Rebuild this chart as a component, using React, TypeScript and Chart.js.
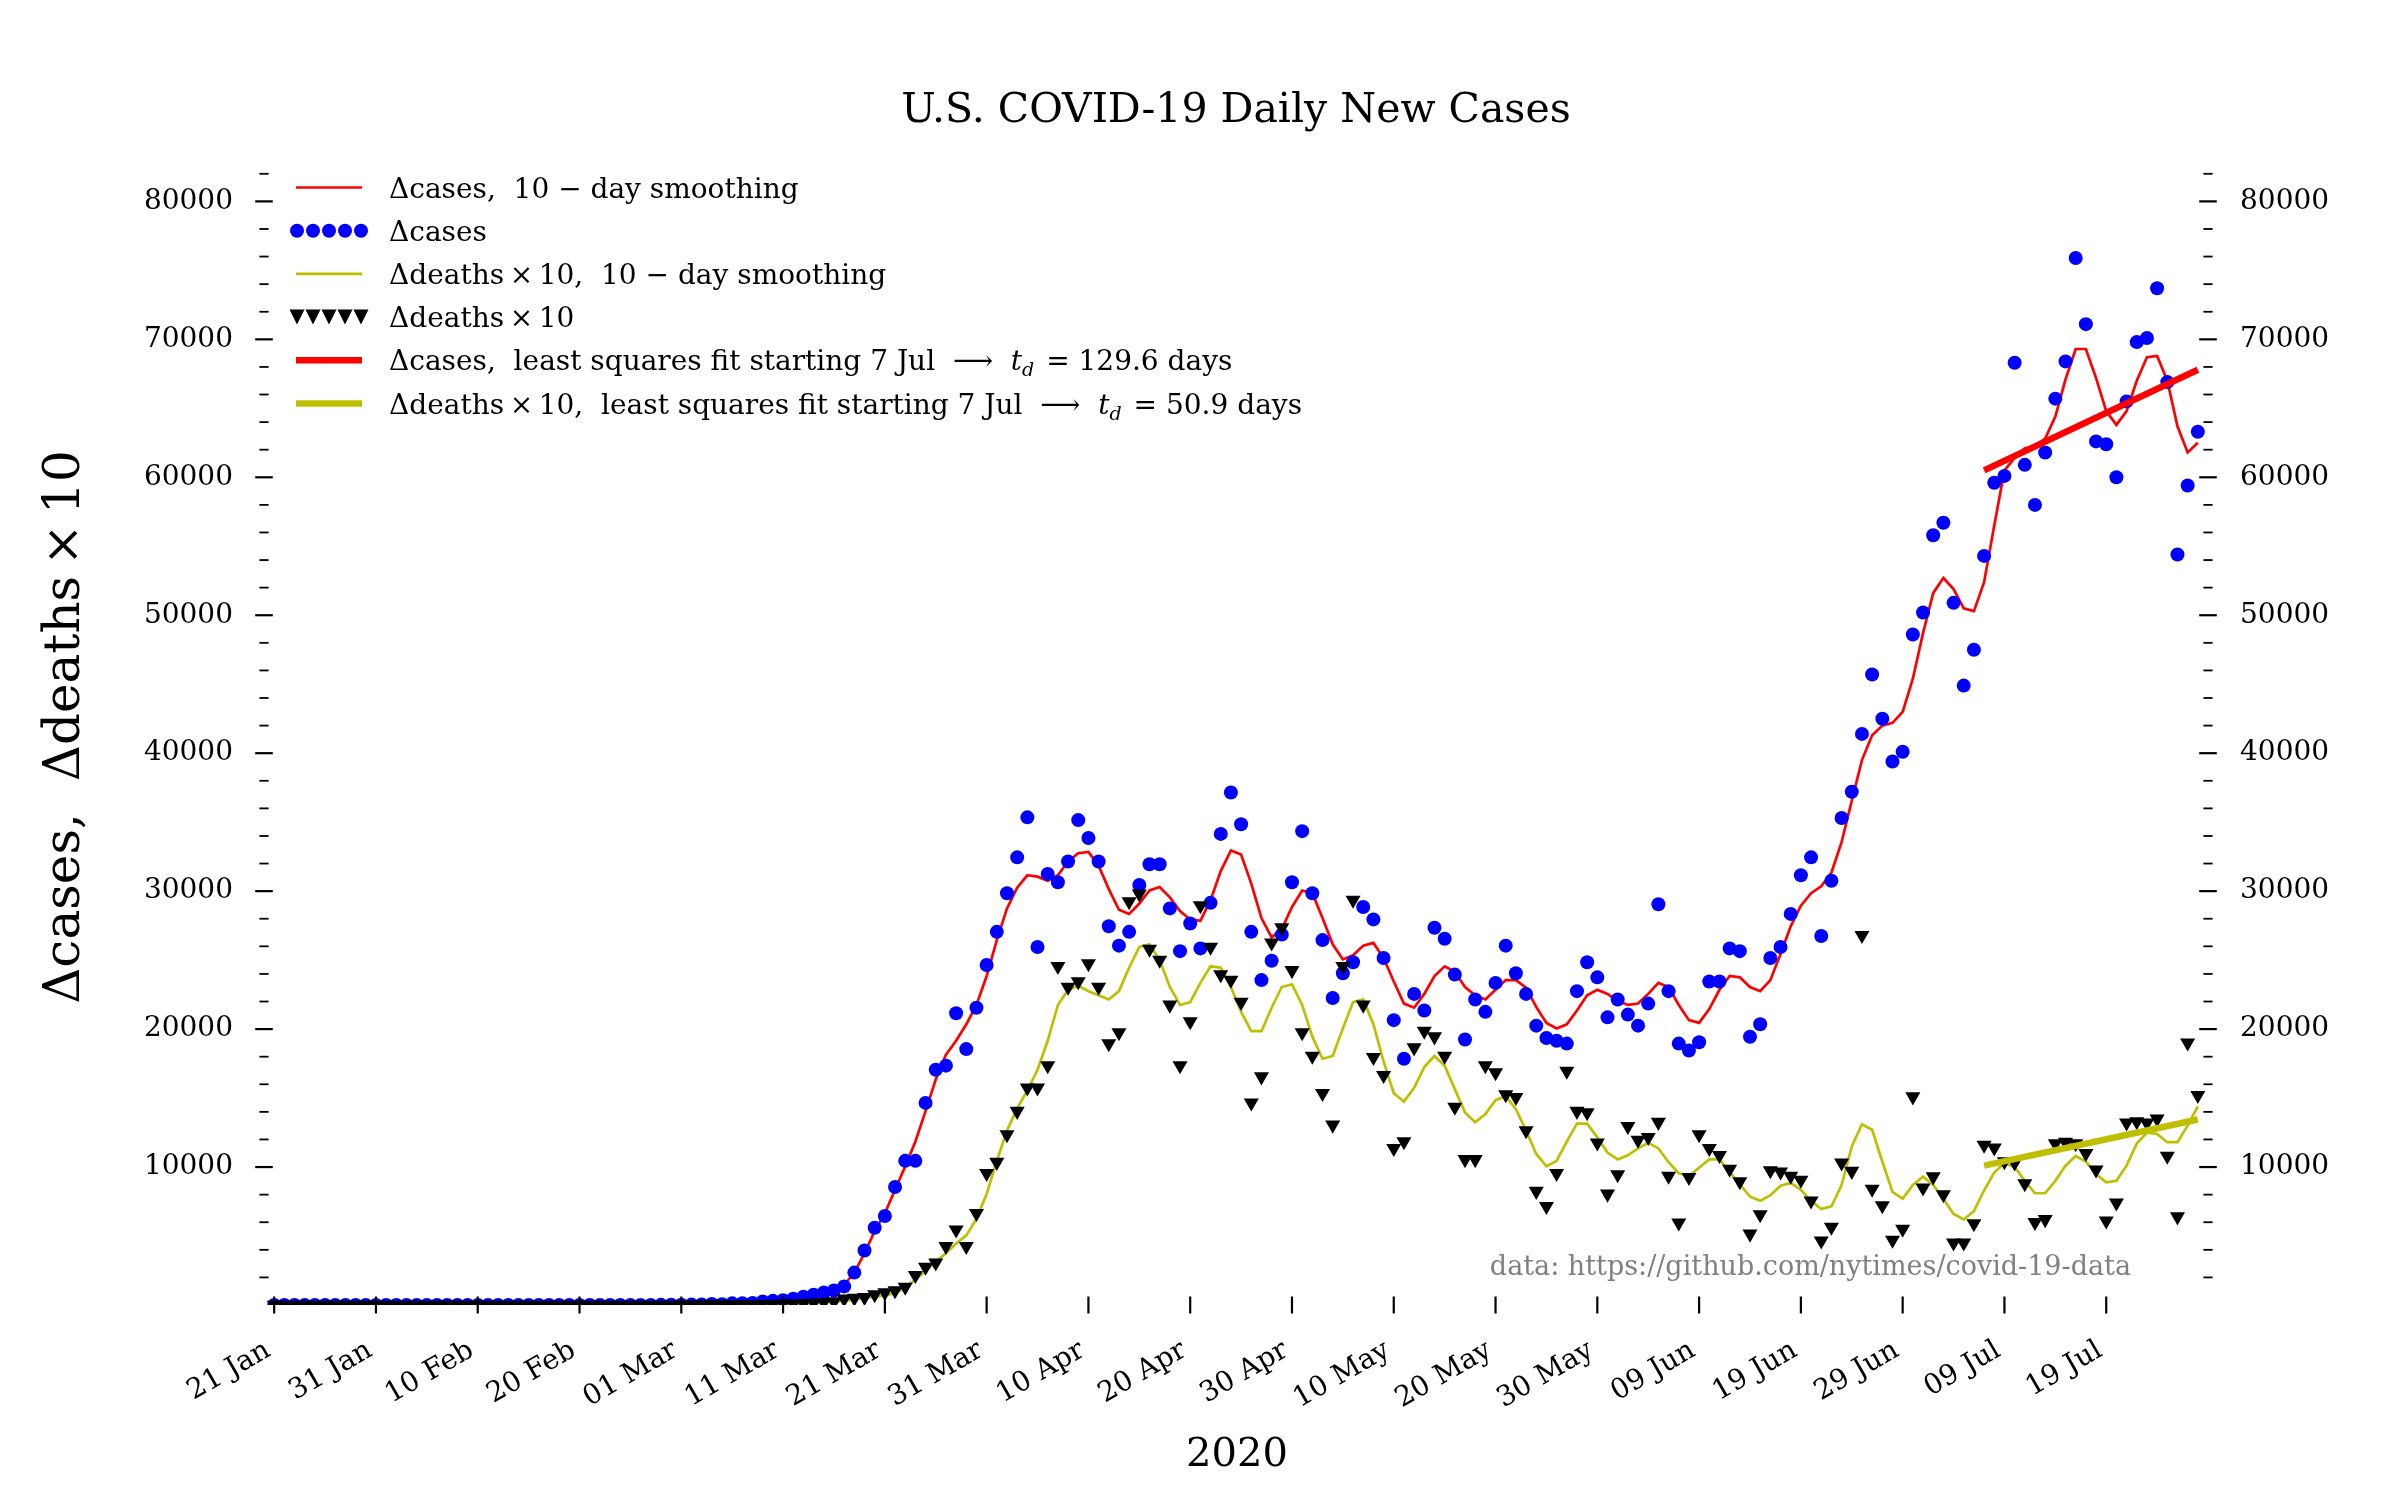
import React, { useEffect, useRef } from 'react';
import { Chart, registerables } from 'chart.js';

Chart.register(...registerables);

// ---------- data (index = days since 21 Jan 2020) ----------
const xTickDays = [0, 10, 20, 30, 40, 50, 60, 70, 80, 90, 100, 110, 120, 130, 140, 150, 160, 170, 180];
const xTickLabels = ['21 Jan', '31 Jan', '10 Feb', '20 Feb', '01 Mar', '11 Mar', '21 Mar', '31 Mar', '10 Apr', '20 Apr', '30 Apr', '10 May', '20 May', '30 May', '09 Jun', '19 Jun', '29 Jun', '09 Jul', '19 Jul'];
const yTickValues = [2000, 4000, 6000, 8000, 10000, 12000, 14000, 16000, 18000, 20000, 22000, 24000, 26000, 28000, 30000, 32000, 34000, 36000, 38000, 40000, 42000, 44000, 46000, 48000, 50000, 52000, 54000, 56000, 58000, 60000, 62000, 64000, 66000, 68000, 70000, 72000, 74000, 76000, 78000, 80000, 82000];
const yLabeledTicks = [10000, 20000, 30000, 40000, 50000, 60000, 70000, 80000];

const cases = [
  1, 0, 0, 1, 0, 2, 0, 0, 0, 1,
  1, 1, 1, 0, 0, 0, 0, 1, 0, 0,
  0, 0, 0, 1, 0, 0, 0, 0, 0, 1,
  1, 0, 0, 0, 0, 3, 2, 5, 10, 18,
  25, 30, 45, 70, 60, 120, 130, 150, 260, 300,
  350, 450, 600, 750, 900, 1050, 1350, 2350, 3950, 5600,
  6450, 8550, 10450, 10450, 14650, 17050, 17350, 21150, 18550, 21550,
  24650, 27050, 29850, 32450, 35350, 25950, 31250, 30650, 32150, 35150,
  33850, 32150, 27450, 26050, 27050, 30450, 31950, 31950, 28750, 25650,
  27650, 25850, 29150, 34150, 37150, 34850, 27050, 23550, 24950, 26850,
  30650, 34350, 29850, 26450, 22250, 24050, 24850, 28850, 27950, 25150,
  20650, 17850, 22550, 21350, 27350, 26550, 23950, 19250, 22150, 21250,
  23350, 26050, 24050, 22550, 20250, 19350, 19150, 18950, 22750, 24850,
  23750, 20850, 22150, 21050, 20250, 21850, 29050, 22750, 18950, 18450,
  19050, 23450, 23450, 25850, 25650, 19450, 20350, 25150, 25950, 28350,
  31150, 32450, 26750, 30750, 35300, 37200, 41400, 45700, 42500, 39400,
  40100, 48600, 50200, 55800, 56700, 50900, 44900, 47500, 54300, 59600,
  60100, 68300, 60900, 58000, 61800, 65700, 68400, 75900, 71100, 62600,
  62400, 60000, 65500, 69800, 70100, 73700, 66900, 54400, 59400, 63300,
];

const casesSmooth = [
  0, 0, 0, 0, 0, 0, 0, 0, 1, 1,
  1, 1, 1, 1, 0, 0, 0, 0, 0, 0,
  0, 0, 0, 0, 0, 0, 0, 0, 0, 0,
  0, 0, 0, 1, 2, 3, 5, 8, 12, 18,
  25, 35, 45, 60, 75, 95, 120, 150, 190, 250,
  330, 420, 530, 650, 800, 1100, 1450, 2350, 3750, 5350,
  6650, 8350, 10050, 11850, 14050, 16350, 18150, 19150, 20350, 21750,
  23850, 26450, 28750, 30250, 31150, 31050, 30750, 31150, 32150, 32750,
  32850, 31850, 30150, 28650, 28350, 29100, 30050, 30300, 29550, 28550,
  27950, 27850, 29350, 31450, 32950, 32650, 30550, 28050, 26650, 27250,
  28850, 30050, 29850, 28050, 26150, 25050, 25350, 26050, 26250, 25150,
  23450, 21850, 21550, 22550, 23850, 24550, 24150, 23050, 22450, 22150,
  22850, 23550, 23550, 23000, 21600, 20450, 20050, 20350, 21350, 22450,
  22850, 22550, 22050, 21750, 21850, 22550, 23350, 23050, 21750, 20650,
  20450, 21450, 22850, 23850, 23750, 23050, 22750, 23550, 25450, 27450,
  28950, 29850, 30350, 31350, 33550, 36550, 39500, 41300, 42000, 42200,
  43000, 45400, 48700, 51600, 52700, 51900, 50500, 50300, 52400, 56500,
  60500, 61400, 62100, 62200, 62800, 64400, 67100, 69300, 69300, 67200,
  64800, 63800, 64800, 67000, 68700, 68800, 67000, 63700, 61800, 62500,
];

const deathsX10 = [
  0, 0, 0, 0, 0, 0, 0, 0, 0, 0,
  0, 0, 0, 0, 0, 0, 0, 0, 0, 0,
  0, 0, 0, 0, 0, 0, 0, 0, 0, 0,
  0, 0, 0, 0, 0, 0, 0, 0, 0, 0,
  10, 10, 20, 50, 30, 20, 40, 30, 40, 60,
  80, 100, 120, 150, 200, 250, 450, 500, 550, 750,
  900, 1050, 1300, 2150, 2750, 3050, 4250, 5450, 4250, 6650,
  9550, 10350, 12350, 14050, 15750, 15750, 17350, 24550, 23050, 23450,
  24750, 23050, 18950, 19750, 29250, 29800, 25800, 25000, 21750, 17350,
  20550, 28950, 25950, 23950, 23550, 21950, 14650, 16550, 26250, 27350,
  24250, 19750, 18050, 15350, 13050, 24550, 29350, 21750, 17950, 16650,
  11350, 11850, 18650, 19850, 19450, 18050, 14350, 10550, 10550, 17350,
  16850, 15250, 15050, 12650, 8250, 7150, 9550, 16950, 14050, 13950,
  11750, 8050, 9450, 12950, 11950, 12150, 13250, 9350, 5950, 9250,
  12350, 11350, 10850, 9850, 8950, 5150, 6550, 9750, 9650, 9350,
  9050, 7550, 4650, 5650, 10300, 9700, 26800, 8400, 7200, 4700,
  5500, 15100, 8500, 9300, 8000, 4500, 4500, 5900, 11600, 11400,
  10400, 10300, 8800, 6000, 6200, 11700, 11800, 11700, 11000, 9800,
  6100, 7400, 13200, 13300, 13200, 13500, 10800, 6400, 19000, 15200,
];

const deathsX10Smooth = [
  0, 0, 0, 0, 0, 0, 0, 0, 0, 0,
  0, 0, 0, 0, 0, 0, 0, 0, 0, 0,
  0, 0, 0, 0, 0, 0, 0, 0, 0, 0,
  0, 0, 0, 0, 0, 0, 0, 0, 0, 0,
  5, 8, 12, 18, 22, 25, 28, 32, 40, 50,
  70, 90, 110, 140, 180, 230, 300, 400, 500, 600,
  700, 850, 1250, 1850, 2450, 3150, 3750, 4450, 5050, 6250,
  8050, 10450, 12650, 14250, 15550, 17050, 19150, 21750, 22850, 23150,
  22750, 22450, 22150, 22750, 24450, 25950, 26150, 25000, 23050, 21750,
  21950, 23350, 24550, 24450, 23050, 21250, 19850, 19850, 21550, 23050,
  23250, 21750, 19450, 17850, 18050, 20050, 21950, 22150, 20350, 17650,
  15350, 14750, 15750, 17250, 18050, 17350, 15650, 13950, 13250, 13850,
  14850, 15150, 14200, 12650, 10950, 10050, 10450, 11850, 13150, 13150,
  12150, 11050, 10550, 10850, 11350, 11750, 11350, 10350, 9550, 9350,
  9950, 10550, 10550, 9650, 8750, 7850, 7550, 7950, 8650, 8850,
  8350, 7550, 6950, 7150, 8700, 11500, 13100, 12700, 10400, 8200,
  7700, 8700, 9300, 8700, 7700, 6600, 6200, 6800, 8300, 9600,
  10300, 10000, 9000, 8100, 8100, 9000, 10100, 10800, 10400, 9500,
  8900, 9000, 10100, 11700, 12500, 12400, 11800, 11800, 13000, 14400,
];

const fitDays = [168, 189];
const casesFit = [60500, 67800];
const deathsFit = [10100, 13450];

const titleText = 'U.S. COVID-19 Daily New Cases';
const xAxisTitle = '2020';
const yAxisTitle = 'Δcases,  Δdeaths\u2009×\u200910';
const creditText = 'data: https://github.com/nytimes/covid-19-data';
const legendLabels = [
  'Δcases,  10 − day smoothing',
  'Δcases',
  'Δdeaths\u2009×\u200910,  10 − day smoothing',
  'Δdeaths\u2009×\u200910',
  'Δcases,  least squares fit starting 7 Jul  ⟶  ',
  'Δdeaths\u2009×\u200910,  least squares fit starting 7 Jul  ⟶  ',
];
const legendTd = ['129.6', '50.9'];

// ---------- styles ----------
const RED = '#ff0000';
const BLUE = '#0000ff';
const OLIVE = '#bfbf00';
const SERIF = '"DejaVu Serif"';

const toXY = (arr: number[]) => arr.map((v, i) => ({ x: i, y: v }));
const toFitXY = (arr: number[]) => arr.map((v, i) => ({ x: fitDays[i], y: v }));

function drawTriangleDown(ctx: CanvasRenderingContext2D, x: number, y: number, w: number, h: number) {
  ctx.beginPath();
  ctx.moveTo(x - w / 2, y - h / 2);
  ctx.lineTo(x + w / 2, y - h / 2);
  ctx.lineTo(x, y + h / 2);
  ctx.closePath();
  ctx.fill();
}

const decorPlugin = {
  id: 'decor',
  afterDraw(chart: any) {
    const { ctx, chartArea, scales } = chart;
    ctx.save();
    // tick marks (inout, matplotlib-like)
    ctx.strokeStyle = '#000';
    for (const v of yTickValues) {
      const y = scales.y.getPixelForValue(v);
      const major = yLabeledTicks.includes(v);
      const half = major ? 8.8 : 4.6;
      ctx.lineWidth = major ? 2.2 : 1.8;
      for (const x0 of [chartArea.left, chartArea.right]) {
        ctx.beginPath();
        ctx.moveTo(x0 - half, y);
        ctx.lineTo(x0 + half, y);
        ctx.stroke();
      }
    }
    ctx.lineWidth = 2.2;
    for (const d of xTickDays) {
      const x = scales.x.getPixelForValue(d);
      ctx.beginPath();
      ctx.moveTo(x, chartArea.bottom - 8.5);
      ctx.lineTo(x, chartArea.bottom + 8.5);
      ctx.stroke();
    }

    // title
    ctx.fillStyle = '#000';
    ctx.textAlign = 'center';
    ctx.textBaseline = 'alphabetic';
    ctx.font = `41px ${SERIF}`;
    ctx.fillText(titleText, 1236, 122);

    // x axis title
    ctx.font = `40px ${SERIF}`;
    ctx.fillText(xAxisTitle, 1237, 1466);

    // y axis title
    ctx.save();
    ctx.translate(66, 727);
    ctx.rotate(-Math.PI / 2);
    ctx.font = `50px ${SERIF}`;
    ctx.textBaseline = 'middle';
    ctx.fillText(yAxisTitle, 0, 0);
    ctx.restore();

    // credit
    ctx.fillStyle = '#808080';
    ctx.textAlign = 'right';
    ctx.font = `27px ${SERIF}`;
    ctx.fillText(creditText, 2131, 1275);

    // legend
    const rowY = [187.5, 230.7, 273.9, 317.1, 360.3, 403.5];
    const hx0 = 296;
    const hx1 = 362;
    ctx.textAlign = 'left';
    ctx.textBaseline = 'alphabetic';
    rowY.forEach((y, i) => {
      if (i === 0 || i === 2 || i === 4 || i === 5) {
        ctx.strokeStyle = i === 0 || i === 4 ? RED : OLIVE;
        ctx.lineWidth = i >= 4 ? 6.5 : 2.7;
        ctx.lineCap = 'butt';
        ctx.beginPath();
        ctx.moveTo(hx0, y);
        ctx.lineTo(hx1, y);
        ctx.stroke();
      } else {
        for (let k = 0; k < 5; k++) {
          const cx = 297 + k * 16;
          if (i === 1) {
            ctx.fillStyle = BLUE;
            ctx.beginPath();
            ctx.arc(cx, y, 7, 0, Math.PI * 2);
            ctx.fill();
          } else {
            ctx.fillStyle = '#000';
            drawTriangleDown(ctx, cx, y, 15, 15);
          }
        }
      }
      ctx.fillStyle = '#000';
      ctx.font = `28px ${SERIF}`;
      const base = y + 10;
      let tx = 389;
      ctx.fillText(legendLabels[i], tx, base);
      if (i >= 4) {
        tx += ctx.measureText(legendLabels[i]).width;
        ctx.font = `italic 28px ${SERIF}`;
        ctx.fillText('t', tx, base);
        tx += ctx.measureText('t').width;
        ctx.font = `italic 19px ${SERIF}`;
        ctx.fillText('d', tx, base + 6);
        tx += ctx.measureText('d').width + 3;
        ctx.font = `28px ${SERIF}`;
        const rest = ' = ' + legendTd[i - 4] + ' days';
        ctx.fillText(rest, tx, base);
      }
    });
    ctx.restore();
  },
};

export default function App() {
  const ref = useRef<HTMLCanvasElement | null>(null);

  useEffect(() => {
    document.body.style.margin = '0';
    const canvas = ref.current;
    if (!canvas) return;
    const tickFont = { family: SERIF, size: 28 };
    const yAxisBase = (pos: 'left' | 'right', width: number, padding: number) => ({
      type: 'linear',
      position: pos,
      min: 0,
      max: 83000,
      grid: { display: false },
      border: { display: false },
      afterBuildTicks: (s: any) => {
        s.ticks = yTickValues.map((v) => ({ value: v }));
      },
      afterFit: (s: any) => {
        s.width = width;
      },
      ticks: {
        color: '#000',
        font: tickFont,
        padding,
        autoSkip: false,
        callback: (v: number) => (yLabeledTicks.includes(v) ? String(v) : ''),
      },
    });

    const chart = new Chart(canvas, {
      type: 'line',
      data: {
        datasets: [
          {
            label: 'deaths fit',
            data: toFitXY(deathsFit),
            borderColor: OLIVE,
            borderWidth: 6.5,
            pointRadius: 0,
            borderCapStyle: 'butt',
          },
          {
            label: 'cases fit',
            data: toFitXY(casesFit),
            borderColor: RED,
            borderWidth: 6.5,
            pointRadius: 0,
            borderCapStyle: 'butt',
          },
          {
            label: 'deaths x10',
            data: toXY(deathsX10),
            showLine: false,
            pointStyle: 'triangle',
            rotation: 180,
            pointRadius: 8.7,
            pointBackgroundColor: '#000',
            pointBorderWidth: 0,
            borderColor: '#000',
          },
          {
            label: 'deaths x10 smooth',
            data: toXY(deathsX10Smooth),
            borderColor: OLIVE,
            borderWidth: 2.7,
            pointRadius: 0,
          },
          {
            label: 'cases',
            data: toXY(cases),
            showLine: false,
            pointStyle: 'circle',
            pointRadius: 7,
            pointBackgroundColor: BLUE,
            pointBorderWidth: 0,
            borderColor: BLUE,
          },
          {
            label: 'cases smooth',
            data: toXY(casesSmooth),
            borderColor: RED,
            borderWidth: 2.7,
            pointRadius: 0,
          },
        ],
      },
      options: {
        responsive: false,
        animation: false,
        layout: { padding: { top: 160, left: 0, right: 0, bottom: 0 } },
        plugins: {
          legend: { display: false },
          tooltip: { enabled: false },
          title: { display: false },
        },
        elements: { line: { tension: 0 } },
        scales: {
          x: {
            type: 'linear',
            position: 'bottom',
            min: -1,
            max: 190,
            grid: { display: false },
            border: { display: false },
            afterBuildTicks: (s: any) => {
              s.ticks = xTickDays.map((v) => ({ value: v }));
            },
            afterFit: (s: any) => {
              s.height = 195;
            },
            ticks: {
              color: '#000',
              font: tickFont,
              padding: 21,
              labelOffset: -6,
              autoSkip: false,
              minRotation: 30,
              maxRotation: 30,
              callback: (v: number) => {
                const i = xTickDays.indexOf(v);
                return i >= 0 ? xTickLabels[i] : '';
              },
            },
          },
          y: yAxisBase('left', 264, 23),
          y2: yAxisBase('right', 192, 24),
        },
      } as any,
      plugins: [decorPlugin],
    } as any);
    return () => chart.destroy();
  }, []);

  return (
    <div style={{ width: 2400, height: 1500, background: '#fff' }}>
      <canvas ref={ref} width={2400} height={1500} style={{ display: 'block', width: 2400, height: 1500 }} />
    </div>
  );
}
